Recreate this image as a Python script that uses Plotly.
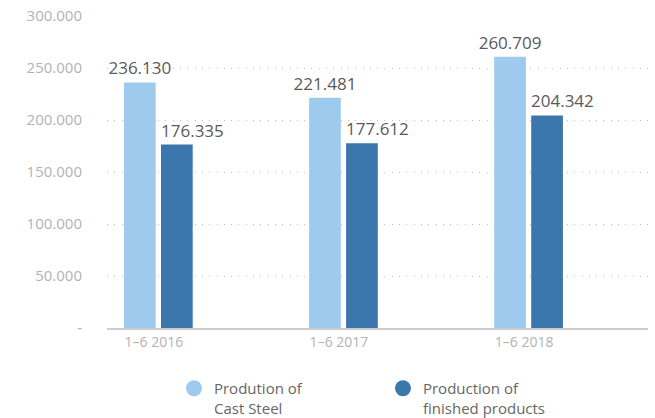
import plotly.graph_objects as go

categories = ["1–6 2016", "1–6 2017", "1–6 2018"]
cast_steel = [236130, 221481, 260709]
finished_products = [176335, 177612, 204342]
series_names = ["Prodution of<br>Cast Steel", "Production of<br>finished products"]
y_tickvals = [0, 50000, 100000, 150000, 200000, 250000, 300000]
y_ticktext = ["-", "50.000", "100.000", "150.000", "200.000", "250.000", "300.000"]

LIGHT = "#9ECAEE"
DARK = "#3B77AD"
FONT = "Open Sans"
LABEL_FONT = dict(family=FONT, size=17, color="#5a5a5a")
x = list(range(len(categories)))

fig = go.Figure()
bar_w = 0.1713
off_light, off_dark = -0.1853, 0.0146
fig.add_trace(go.Bar(
    x=x, y=cast_steel, width=bar_w, offset=off_light,
    marker=dict(color=LIGHT, line=dict(width=0)),
    text=cast_steel, texttemplate="%{y:,}", textposition="outside", cliponaxis=False,
    constraintext="none", textfont=LABEL_FONT, showlegend=False, hoverinfo="skip",
))
fig.add_trace(go.Bar(
    x=x, y=finished_products, width=bar_w, offset=off_dark,
    marker=dict(color=DARK, line=dict(width=0)), showlegend=False, hoverinfo="skip",
))
# labels of the second series start at the bar's left edge
for xi, v in zip(x, finished_products):
    fig.add_annotation(
        x=xi + off_dark, y=v, xref="x", yref="y", text=f"{v:,}".replace(",", "."),
        showarrow=False, xanchor="left", yanchor="bottom", xshift=-2, yshift=1,
        font=LABEL_FONT,
    )
for name, color in zip(series_names, [LIGHT, DARK]):
    fig.add_trace(go.Scatter(
        x=[None], y=[None], mode="markers", name=name,
        marker=dict(symbol="circle", size=18, color=color),
    ))

fig.update_layout(
    width=655, height=418, barmode="overlay", separators=",.",
    margin=dict(l=107, r=7, t=16, b=90),
    paper_bgcolor="white", plot_bgcolor="white",
    font=dict(family=FONT, color="#b3b3b3", size=13),
    legend=dict(orientation="h", xref="container", yref="container",
                x=0.2656, xanchor="left", y=0.11, yanchor="top",
                valign="top", font=dict(family=FONT, size=15, color="#666666"),
                entrywidth=164, itemwidth=30),
    xaxis=dict(range=[-0.2771, 2.6456], tickvals=[i - 0.024 for i in x], ticktext=categories,
               showgrid=False, showline=True, linecolor="#cccccc", linewidth=2, zeroline=False,
               ticks="", automargin=False, tickfont=dict(size=14, color="#b3b3b3")),
    yaxis=dict(range=[0, 300000], tickvals=y_tickvals, ticktext=y_ticktext,
               showgrid=True, gridcolor="#bdbdbd", griddash="1px,6.3px", gridwidth=1,
               zeroline=False, showline=False, ticklabelstandoff=24, automargin=False,
               tickfont=dict(size=15, color="#b3b3b3")),
)
fig.write_html("out.html", config={"displayModeBar": False},
               post_script="document.body.style.margin='0';")
